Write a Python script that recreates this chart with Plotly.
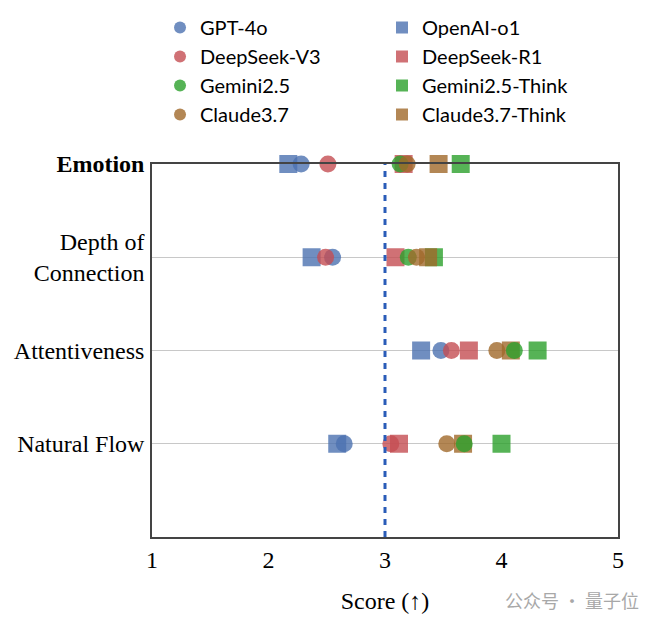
import plotly.graph_objects as go

# Dimensions (top to bottom)
dimensions = ["Emotion", "Depth of Connection", "Attentiveness", "Natural Flow"]
dimension_labels = ["<b>Emotion</b>", "Depth of<br>Connection", "Attentiveness", "Natural Flow"]

# Scores, one list per model, in dimension order
gpt_4o = [2.28, 2.55, 3.48, 2.65]
openai_o1 = [2.17, 2.37, 3.31, 2.59]
deepseek_v3 = [2.51, 2.49, 3.57, 3.05]
deepseek_r1 = [3.16, 3.09, 3.72, 3.12]
gemini_25 = [3.13, 3.20, 4.11, 3.68]
gemini_25_think = [3.65, 3.42, 4.31, 4.00]
claude_37 = [3.19, 3.27, 3.96, 3.53]
claude_37_think = [3.46, 3.37, 4.08, 3.67]

x_ticks = [1, 2, 3, 4, 5]
baseline = 3

BLUE = "#4C72B0"
RED = "#C44E52"
GREEN = "#2ca02c"
BROWN = "#a0692a"

# (name, scores, colour, symbol, legend rank) - squares drawn first, circles on top
models = [
    ("OpenAI-o1", openai_o1, BLUE, "square", 2),
    ("DeepSeek-R1", deepseek_r1, RED, "square", 4),
    ("Gemini2.5-Think", gemini_25_think, GREEN, "square", 6),
    ("Claude3.7-Think", claude_37_think, BROWN, "square", 8),
    ("GPT-4o", gpt_4o, BLUE, "circle", 1),
    ("DeepSeek-V3", deepseek_v3, RED, "circle", 3),
    ("Gemini2.5", gemini_25, GREEN, "circle", 5),
    ("Claude3.7", claude_37, BROWN, "circle", 7),
]

fig = go.Figure()
for name, scores, color, symbol, rank in models:
    fig.add_trace(go.Scatter(
        x=scores, y=dimensions, mode="markers", name=name,
        legendrank=rank, cliponaxis=False,
        marker=dict(color=color, symbol=symbol, size=18 if symbol == "square" else 17,
                    opacity=0.8, line=dict(width=0)),
    ))

# neutral score reference line
fig.add_vline(x=baseline, line=dict(color="#2a5cb8", width=3, dash="6px,6px"))

fig.add_annotation(
    text="公众号 · 量子位", xref="paper", yref="paper", x=1.049, y=-0.169,
    xanchor="right", yanchor="middle", showarrow=False,
    font=dict(family="Noto Sans CJK SC", size=18, color="#a8a8a8"),
)

# page body adds an 8px offset, so the figure is drawn 8px smaller
fig.update_layout(
    width=651, height=618,
    margin=dict(l=144, r=41, t=156, b=89),
    plot_bgcolor="white", paper_bgcolor="white",
    font=dict(family="Liberation Serif", size=24, color="black"),
    legend=dict(
        orientation="h", xref="container", yref="container",
        x=0.2335, y=1.0, xanchor="left", yanchor="top",
        entrywidth=177, traceorder="normal", itemsizing="constant",
        font=dict(family="Lato", size=20, color="black"),
        itemclick=False,
    ),
    xaxis=dict(
        range=[1, 5], tickvals=x_ticks, showgrid=False, zeroline=False,
        showline=True, mirror=True, linecolor="#444444", linewidth=1.5,
        ticks="", ticklabelstandoff=0, automargin=False,
        title=dict(text="Score (↑)", font=dict(size=24), standoff=21),
    ),
    yaxis=dict(
        type="category", categoryorder="array", categoryarray=dimensions,
        tickvals=dimensions, ticktext=dimension_labels,
        range=[4, 0], showgrid=True, gridcolor="#c8c8c8", gridwidth=1,
        showline=True, mirror=True, linecolor="#444444", linewidth=1.5,
        ticks="", ticklabelstandoff=1, automargin=False,
    ),
)

fig.write_html("out.html")
